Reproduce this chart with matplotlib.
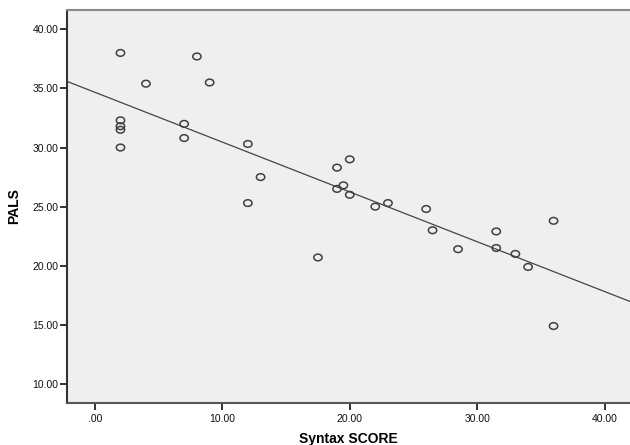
import numpy as np
import matplotlib
matplotlib.use('Agg')
import matplotlib.pyplot as plt
from matplotlib.path import Path
from matplotlib.transforms import Affine2D

plt.rcParams['font.family'] = ['Liberation Sans', 'DejaVu Sans']

# Syntax SCORE vs PALS
syntax = [2, 8, 4, 9, 2, 2, 2, 2, 7, 7, 12, 13, 12,
          17.5, 20, 19, 19.5, 19, 20, 22, 23, 26, 26.5, 28.5,
          31.5, 31.5, 33, 34, 36, 36]
pals = [38.0, 37.7, 35.4, 35.5, 32.3, 31.8, 31.5, 30.0, 32.0, 30.8, 30.3, 27.5, 25.3,
        20.7, 29.0, 28.3, 26.8, 26.5, 26.0, 25.0, 25.3, 24.8, 23.0, 21.4,
        22.9, 21.5, 21.0, 19.9, 23.8, 14.9]

xticks = [0, 10, 20, 30, 40]
xlabels = ['.00', '10.00', '20.00', '30.00', '40.00']
yticks = [10, 15, 20, 25, 30, 35, 40]
ylabels = ['10.00', '15.00', '20.00', '25.00', '30.00', '35.00', '40.00']

fig = plt.figure(figsize=(6.3, 4.45), dpi=100)
ax = fig.add_axes([0.1063, 0.0944, 0.8937, 0.8831])
ax.set_facecolor('#efefef')

# slightly flattened open circle, like the SPSS marker
oval = Affine2D().scale(1.0, 0.8).transform_path(Path.unit_circle())
ax.scatter(syntax, pals, s=36, marker=oval, facecolors='none', edgecolors='#404040',
           linewidths=1.1, zorder=3)

# linear fit line
k, b = np.polyfit(syntax, pals, 1)
xl = np.array([-2.2, 42.0])
ax.plot(xl, k * xl + b, color='#444444', linewidth=0.9, zorder=2)

ax.set_xlim(-2.2, 42.0)
ax.set_ylim(8.39, 41.63)
ax.set_xticks(xticks)
ax.set_xticklabels(xlabels)
ax.set_yticks(yticks)
ax.set_yticklabels(ylabels)
ax.tick_params(axis='both', direction='out', length=5, width=1.3, color='#222222',
               labelsize=7.5, labelcolor='#111111')
ax.tick_params(axis='x', pad=3)
ax.tick_params(axis='y', pad=1)

ax.spines['right'].set_visible(False)
ax.spines['top'].set_color('#888888')
ax.spines['top'].set_linewidth(1.5)
ax.spines['left'].set_color('#333333')
ax.spines['left'].set_linewidth(1.5)
ax.spines['bottom'].set_color('#555555')
ax.spines['bottom'].set_linewidth(1.5)

ax.set_xlabel('Syntax SCORE', fontsize=10, fontweight='bold', labelpad=6)
ax.set_ylabel('PALS', fontsize=10, fontweight='bold', labelpad=8)

fig.savefig('out.png', dpi=100)
